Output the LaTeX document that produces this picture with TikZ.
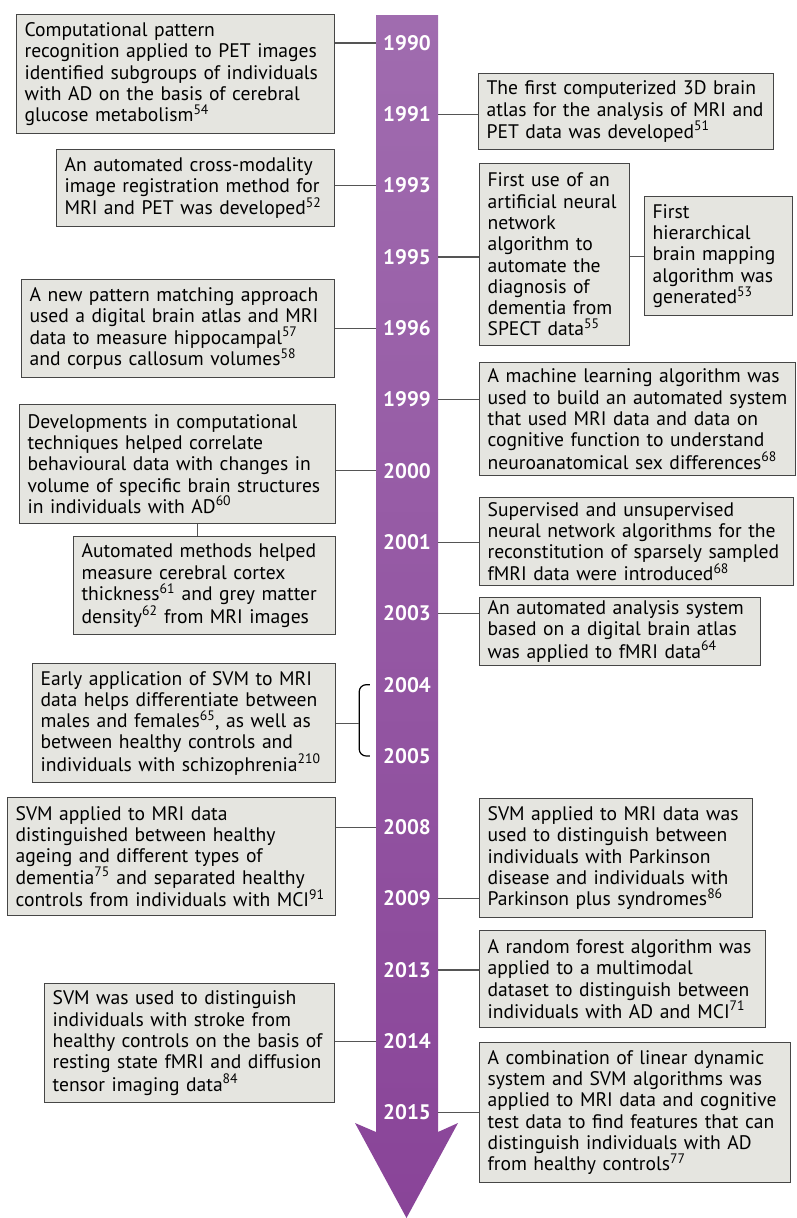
\documentclass[tikz,border=0pt]{standalone}
\usepackage{fontspec}
\setmainfont{PT Sans}
\usetikzlibrary{positioning, calc}

\definecolor{boxfill}{RGB}{229,229,224}
\definecolor{boxline}{RGB}{70,70,70}
\definecolor{linkgray}{RGB}{85,85,85}
\definecolor{purpletop}{RGB}{160,108,175}
\definecolor{purplebot}{RGB}{137,68,152}

\begin{document}
\begin{tikzpicture}[x=1pt, y=-1pt,
    evbox/.style={draw=boxline, fill=boxfill, line width=1.2pt, align=left, anchor=north west,
      inner xsep=8pt, inner ysep=3pt, font=\fontsize{19.6}{21.3}\selectfont},
    yearlbl/.style={text=white, font=\bfseries\fontsize{21}{21}\selectfont, minimum width=62pt, inner sep=0pt},
    link/.style={draw=linkgray, line width=1.2pt}]
\useasboundingbox (0,0) rectangle (797,1218);

% timeline arrow
\shade[top color=purpletop, bottom color=purplebot]
  (376,15) -- (438,15) -- (438,1132) -- (458,1123) -- (406.5,1218) -- (355,1123) -- (376,1132) -- cycle;

% years
\foreach \yr [count=\i from 0] in {1990,1991,1993,1995,1996,1999,2000,2001,2003,2004,2005,2008,2009,2013,2014,2015}
  \node[yearlbl] (y\yr) at (407,{43+71.3*\i}) {\yr};

% left events
\node[evbox, text width=302pt, minimum height=119pt] (L1) at (16,14)
  {Computational pattern\\recognition applied to PET images\\identified subgroups of individuals\\with AD on the basis of cerebral\\glucose metabolism\textsuperscript{54}};
\node[evbox, text width=262pt, minimum height=77pt] (L2) at (56,149)
  {An automated cross-modality\\image registration method for\\MRI and PET was developed\textsuperscript{52}};
\node[evbox, text width=297pt, minimum height=98pt] (L3) at (21,279)
  {A new pattern matching approach\\used a digital brain atlas and MRI\\data to measure hippocampal\textsuperscript{57}\\and corpus callosum volumes\textsuperscript{58}};
\node[evbox, text width=300pt, minimum height=119pt] (L4) at (19,404)
  {Developments in computational\\techniques helped correlate\\behavioural data with changes in\\volume of specific brain structures\\in individuals with AD\textsuperscript{60}};
\node[evbox, text width=246pt, minimum height=98pt] (L5) at (73,536)
  {Automated methods helped\\measure cerebral cortex\\thickness\textsuperscript{61} and grey matter\\density\textsuperscript{62} from MRI images};
\node[evbox, text width=287pt, minimum height=119pt] (L6) at (32,663)
  {Early application of SVM to MRI\\data helps differentiate between\\males and females\textsuperscript{65}, as well as\\between healthy controls and\\individuals with schizophrenia\textsuperscript{210}};
\node[evbox, text width=312pt, minimum height=118pt] (L7) at (7,797)
  {SVM applied to MRI data\\distinguished between healthy\\ageing and different types of\\dementia\textsuperscript{75} and separated healthy\\controls from individuals with MCI\textsuperscript{91}};
\node[evbox, text width=274pt, minimum height=119pt] (L8) at (44,983)
  {SVM was used to distinguish\\individuals with stroke from\\healthy controls on the basis of\\resting state fMRI and diffusion\\tensor imaging data\textsuperscript{84}};

% right events
\node[evbox, text width=279pt, minimum height=76pt] (R1) at (478,73)
  {The first computerized 3D brain\\atlas for the analysis of MRI and\\PET data was developed\textsuperscript{51}};
\node[evbox, text width=134pt, minimum height=182pt] (R2) at (479,163)
  {First use of an\\artificial neural\\network\\algorithm to\\automate the\\diagnosis of\\dementia from\\SPECT data\textsuperscript{55}};
\node[evbox, text width=132pt, minimum height=119pt] (R3) at (644,196)
  {First\\hierarchical\\brain mapping\\algorithm was\\generated\textsuperscript{53}};
\node[evbox, text width=300pt, minimum height=113pt] (R4) at (479,362)
  {A machine learning algorithm was\\used to build an automated system\\that used MRI data and data on\\cognitive function to understand\\neuroanatomical sex differences\textsuperscript{68}};
\node[evbox, text width=298pt, minimum height=88pt] (R5) at (479,497)
  {Supervised and unsupervised\\neural network algorithms for the\\reconstitution of sparsely sampled\\fMRI data were introduced\textsuperscript{68}};
\node[evbox, text width=265pt, minimum height=66pt] (R6) at (479,597)
  {An automated analysis system\\based on a digital brain atlas\\was applied to fMRI data\textsuperscript{64}};
\node[evbox, text width=257pt, minimum height=119pt] (R7) at (479,798)
  {SVM applied to MRI data was\\used to distinguish between\\individuals with Parkinson\\disease and individuals with\\Parkinson plus syndromes\textsuperscript{86}};
\node[evbox, text width=270pt, minimum height=97pt] (R8) at (479,930)
  {A random forest algorithm was\\applied to a multimodal\\dataset to distinguish between\\individuals with AD and MCI\textsuperscript{71}};
\node[evbox, text width=295pt, minimum height=140pt] (R9) at (479,1042)
  {A combination of linear dynamic\\system and SVM algorithms was\\applied to MRI data and cognitive\\test data to find features that can\\distinguish individuals with AD\\from healthy controls\textsuperscript{77}};

% connectors
\foreach \yr/\ev in {1990/L1,1993/L2,1996/L3,2000/L4,2008/L7,2014/L8}
  \draw[link] (y\yr.west) -- (y\yr.west -| \ev.east);
\foreach \yr/\ev in {1991/R1,1995/R2,1999/R4,2001/R5,2003/R6,2009/R7,2013/R8,2015/R9}
  \draw[link] (y\yr.east) -- (y\yr.east -| \ev.west);
\draw[link] ([xshift=-7pt]L5.north) -- ([xshift=-7pt]L5.north |- L4.south);
\draw[link] (R3.west) -- (R3.west -| R2.east);

% 2004--2005 bracket
\coordinate (brk) at ($(L6.east)+(23,0)$);
\draw[line width=1.2pt, rounded corners=7pt] ([xshift=-6pt]y2004.west) -| (brk) |- ([xshift=-6pt]y2005.west);
\draw[link] (L6.east) -- (brk);
\end{tikzpicture}
\end{document}
